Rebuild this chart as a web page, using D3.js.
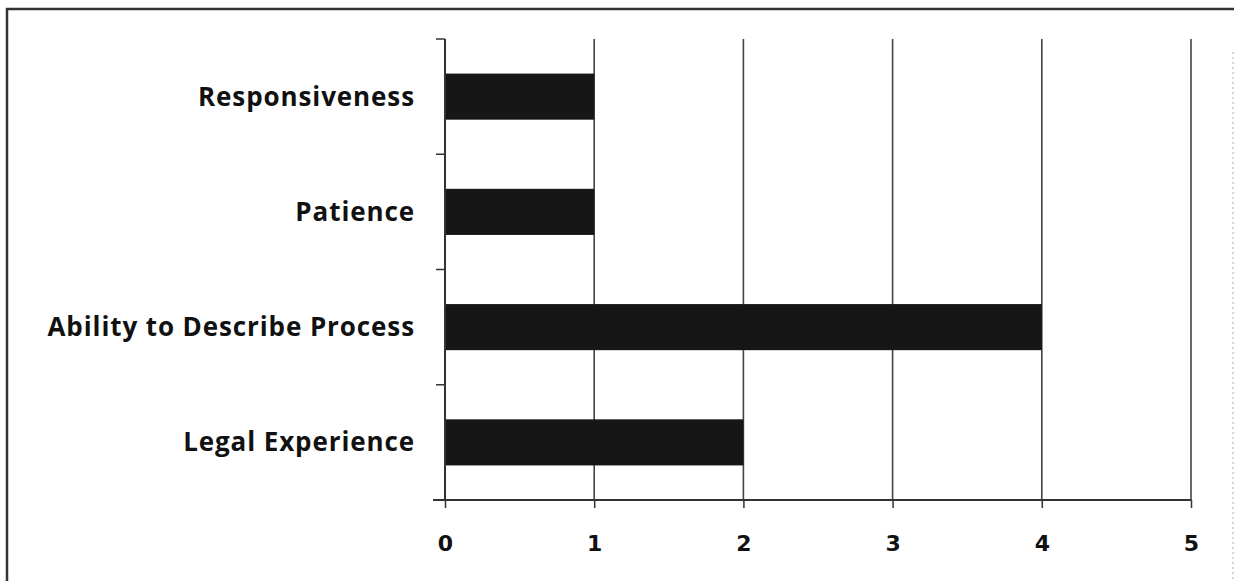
<!DOCTYPE html>
<html>
<head>
<meta charset="utf-8">
<script src="https://cdnjs.cloudflare.com/ajax/libs/d3/7.8.5/d3.min.js"></script>
<style>
  body { margin: 0; background: #fff; }
  svg { display: block; }
  .axis text { font-family: "Open Sans", Lato, sans-serif; font-weight: bold; fill: #111; }
  .x-axis text { font-family: "DejaVu Sans", "Open Sans", sans-serif; }
</style>
</head>
<body>
<div id="chart"></div>
<script>
// chart data
const categories = ["Responsiveness", "Patience", "Ability to Describe Process", "Legal Experience"];
const values = [1, 1, 4, 2];
const xTicks = [0, 1, 2, 3, 4, 5];

const W = 1236, H = 581;
const margin = {top: 39, right: 45, bottom: 81, left: 445};
const width = W - margin.left - margin.right;
const height = H - margin.top - margin.bottom;

const svg = d3.select("#chart").append("svg")
    .attr("width", W)
    .attr("height", H);

// outer frame of the scanned figure (top and left dark, right faint)
svg.append("line")
    .attr("x1", 6).attr("x2", 1234).attr("y1", 9).attr("y2", 9)
    .attr("stroke", "#333").attr("stroke-width", 2.5);
svg.append("line")
    .attr("x1", 7).attr("x2", 7).attr("y1", 8).attr("y2", H)
    .attr("stroke", "#333").attr("stroke-width", 2.5);
svg.append("line")
    .attr("x1", 1233).attr("x2", 1233).attr("y1", 52).attr("y2", H)
    .attr("stroke", "#aaa").attr("stroke-width", 1)
    .attr("stroke-dasharray", "2,3");

const g = svg.append("g")
    .attr("transform", "translate(" + margin.left + "," + margin.top + ")");

const x = d3.scaleLinear().domain([0, 5]).range([0, width]);
const y = d3.scaleBand().domain(categories).range([0, height]).paddingInner(0.6).paddingOuter(0.3);

// vertical gridlines
g.append("g")
    .selectAll("line")
    .data(xTicks.slice(1))
    .enter().append("line")
    .attr("x1", d => x(d)).attr("x2", d => x(d))
    .attr("y1", 0).attr("y2", height)
    .attr("stroke", "#444")
    .attr("stroke-width", 1.6);

// bars
g.selectAll(".bar")
    .data(categories)
    .enter().append("rect")
    .attr("class", "bar")
    .attr("x", x(0))
    .attr("y", d => y(d))
    .attr("width", (d, i) => x(values[i]) - x(0))
    .attr("height", y.bandwidth())
    .attr("fill", "#161616");

// x axis
const xAxis = d3.axisBottom(x).tickValues(xTicks).tickSize(8).tickPadding(27).tickFormat(d3.format("d"));
const gx = g.append("g")
    .attr("class", "axis x-axis")
    .attr("transform", "translate(0," + height + ")")
    .call(xAxis);
gx.select(".domain").attr("stroke", "#333").attr("stroke-width", 2).attr("d", "M-12,0H" + width);
gx.selectAll(".tick line").attr("stroke", "#333").attr("stroke-width", 1.5);
gx.selectAll("text").style("font-size", "22px");

// y axis: ticks sit on band boundaries
const boundaries = d3.range(categories.length + 1).map(i => i * height / categories.length);
const gy = g.append("g").attr("class", "axis");
gy.append("line")
    .attr("x1", 0).attr("x2", 0)
    .attr("y1", 0).attr("y2", height)
    .attr("stroke", "#333").attr("stroke-width", 2);
gy.selectAll(".ytick")
    .data(boundaries)
    .enter().append("line")
    .attr("class", "ytick")
    .attr("x1", -9).attr("x2", 0)
    .attr("y1", d => d).attr("y2", d => d)
    .attr("stroke", "#333").attr("stroke-width", 1.5);
gy.selectAll(".ylabel")
    .data(categories)
    .enter().append("text")
    .attr("class", "ylabel")
    .attr("x", -30)
    .attr("y", d => y(d) + y.bandwidth() / 2)
    .attr("dy", "0.35em")
    .attr("text-anchor", "end")
    .style("font-size", "26px")
    .style("letter-spacing", "0.9px")
    .text(d => d);
</script>
</body>
</html>
